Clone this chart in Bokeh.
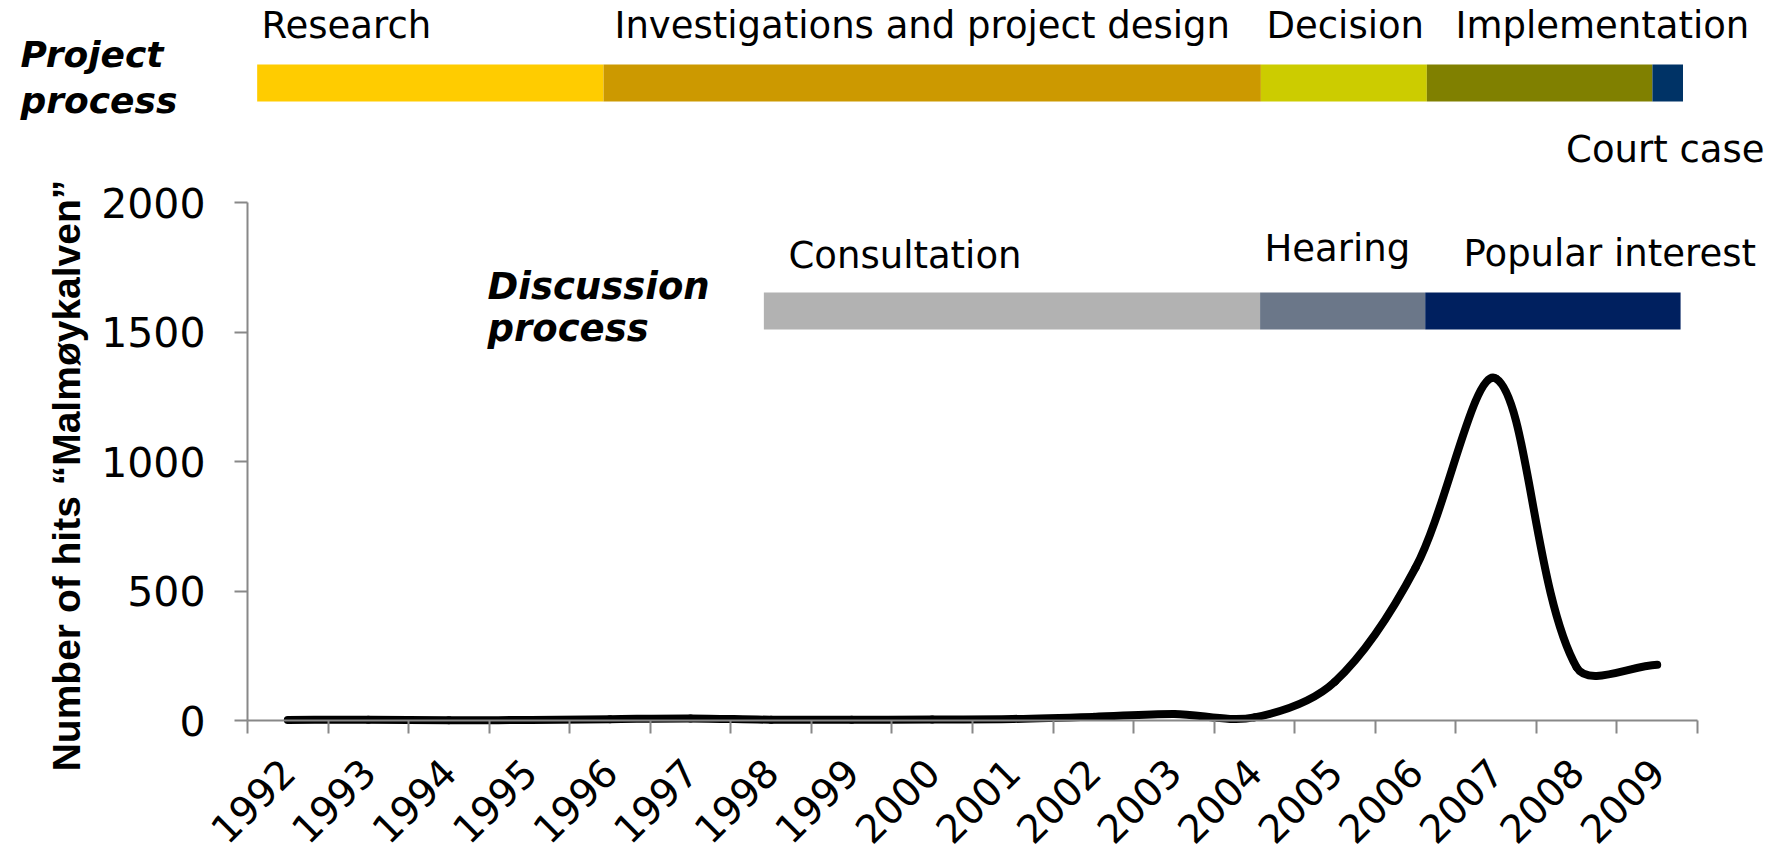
import math
from bokeh.plotting import figure
from bokeh.models import Range1d, FixedTicker, ColumnDataSource
from bokeh.core.properties import value
from bokeh.embed import file_html
from bokeh.resources import INLINE

# ---------------- data ----------------
years = list(range(1992, 2010))
hits = [2, 3, 1, 2, 5, 8, 3, 3, 4, 6, 14, 25, 12, 150, 590, 1320, 205, 215]

project_phases = ["Research", "Investigations and project design", "Decision",
                  "Implementation", "Court case"]
project_start = [1991.62, 1995.92, 2004.08, 2006.14, 2008.94]
project_end = [1995.92, 2004.08, 2006.14, 2008.94, 2009.32]

discussion_phases = ["Consultation", "Hearing", "Popular interest"]
discussion_start = [1997.91, 2004.07, 2006.12]
discussion_end = [2004.07, 2006.12, 2009.29]

y_ticks = [0, 500, 1000, 1500, 2000]
y_label = "Number of hits \u201cMalmøykalven\u201d"

# ---------------- styles / layout ----------------
project_colors = ["#FFCC00", "#CC9900", "#CCCC00", "#808000", "#003366"]
discussion_colors = ["#B2B2B2", "#6B7789", "#00205F"]
AXIS_GREY = "#888888"
FONT = value("DejaVu Sans")

W, H = 1780, 855
AXIS_X_PX = 247                 # page x of the category axis start
AXIS_Y_PX = 720                 # page y of value 0
PX_PER_YEAR = 1450 / 18         # category width in px
Y_PER_PX = 2000 / 518           # hits per px


def xs(px):
    """page x pixel -> year coordinate"""
    return 1991.5 + (px - AXIS_X_PX) / PX_PER_YEAR


def ys(py):
    """page y pixel -> hits coordinate"""
    return (AXIS_Y_PX - py) * Y_PER_PX


p = figure(width=W, height=H, output_backend="svg", toolbar_location=None,
           x_range=Range1d(xs(0), xs(W)), y_range=Range1d(ys(H), ys(0)),
           min_border=0, min_border_left=0, min_border_right=0,
           min_border_top=0, min_border_bottom=0)
p.outline_line_color = None
p.grid.visible = False

# ---- project process (top) ----
p.quad(left=project_start, right=project_end, top=ys(64), bottom=ys(101),
       fill_color=project_colors, line_color=None)
p.text(x=[xs(261), xs(614), xs(1266), xs(1455)], y=[ys(25)] * 4,
       text=project_phases[:4], text_font=FONT, text_font_size="37px",
       text_baseline="alphabetic", text_align="left", text_color="black")
p.text(x=[xs(1764)], y=[ys(149)], text=[project_phases[4]], text_font=FONT,
       text_font_size="37px", text_baseline="alphabetic", text_align="right",
       text_color="black")
p.text(x=[xs(20), xs(20)], y=[ys(54), ys(100)], text=["Project", "process"],
       text_font=FONT, text_font_size="36px", text_font_style="bold italic",
       text_baseline="alphabetic", text_align="left", text_color="black")

# ---- discussion process ----
p.quad(left=discussion_start, right=discussion_end, bottom=ys(329), top=ys(292),
       fill_color=discussion_colors, line_color=None)
p.text(x=[xs(788), xs(1264), xs(1463)], y=[ys(255), ys(248), ys(253)],
       text=discussion_phases, text_font=FONT, text_font_size="37px",
       text_baseline="alphabetic", text_align="left", text_color="black")
p.text(x=[xs(487), xs(487)], y=[ys(286), ys(328)], text=["Discussion", "process"],
       text_font=FONT, text_font_size="37px", text_font_style="bold italic",
       text_baseline="alphabetic", text_align="left", text_color="black")

# ---- smoothed line: Bezier segments through the data points, with control
#      points weighted by on-screen chord lengths (spreadsheet-style smoothing) ----
n = len(years)
sx = [PX_PER_YEAR * x for x in years]
sy = [h / Y_PER_PX for h in hits]


def dist(i, j):
    return math.hypot(sx[j] - sx[i], sy[j] - sy[i])


ctrl_before, ctrl_after = [], []
for i in range(n):
    a, b = max(i - 1, 0), min(i + 1, n - 1)
    tx, ty = years[b] - years[a], hits[b] - hits[a]
    dp = dist(a, i) if i > 0 else 0.0
    dn = dist(i, b) if i < n - 1 else 0.0
    tot = dp + dn
    wp = dp / tot if tot else 0.5
    wn = dn / tot if tot else 0.5
    ctrl_before.append((years[i] - tx * wp / 3, hits[i] - ty * wp / 3))
    ctrl_after.append((years[i] + tx * wn / 3, hits[i] + ty * wn / 3))

seg = dict(x0=years[:-1], y0=hits[:-1], x1=years[1:], y1=hits[1:],
           cx0=[c[0] for c in ctrl_after[:-1]], cy0=[c[1] for c in ctrl_after[:-1]],
           cx1=[c[0] for c in ctrl_before[1:]], cy1=[c[1] for c in ctrl_before[1:]])
p.bezier(source=ColumnDataSource(seg), x0="x0", y0="y0", x1="x1", y1="y1",
         cx0="cx0", cy0="cy0", cx1="cx1", cy1="cy1",
         line_color="black", line_width=8, line_cap="round")

# ---- axes ----
xa_ = p.xaxis[0]
xa_.ticker = FixedTicker(ticks=years,
                         minor_ticks=[y - 0.5 for y in years] + [years[-1] + 0.5])
xa_.major_label_overrides = {y: str(y) for y in years}
xa_.bounds = (years[0] - 0.5, years[-1] + 0.5)
xa_.fixed_location = 0
xa_.axis_line_color = AXIS_GREY
xa_.axis_line_width = 2
xa_.major_tick_out = 0
xa_.major_tick_in = 0
xa_.minor_tick_out = 13
xa_.minor_tick_in = 0
xa_.minor_tick_line_color = AXIS_GREY
xa_.minor_tick_line_width = 2
xa_.major_label_orientation = math.pi / 4
xa_.major_label_standoff = 32
xa_.major_label_text_font = "DejaVu Sans"
xa_.major_label_text_font_size = "39px"
xa_.major_label_text_color = "black"

ya_ = p.yaxis[0]
ya_.ticker = FixedTicker(ticks=y_ticks, minor_ticks=[])
ya_.bounds = (0, 2000)
ya_.fixed_location = years[0] - 0.5
ya_.axis_line_color = AXIS_GREY
ya_.axis_line_width = 2
ya_.major_tick_out = 13
ya_.major_tick_in = 0
ya_.major_tick_line_color = AXIS_GREY
ya_.major_tick_line_width = 2
ya_.minor_tick_out = 0
ya_.minor_tick_in = 0
ya_.major_label_standoff = 29
ya_.major_label_text_font = "DejaVu Sans"
ya_.major_label_text_font_size = "41px"
ya_.major_label_text_color = "black"

# y axis title (rotated text placed where the original has it)
p.text(x=[xs(66)], y=[ys(475)], text=[y_label], angle=math.pi / 2,
       text_font=value("Liberation Sans"), text_font_size="39px",
       text_font_style="bold", text_align="center", text_baseline="alphabetic",
       text_color="black")

open("out.html", "w").write(file_html(p, INLINE))
